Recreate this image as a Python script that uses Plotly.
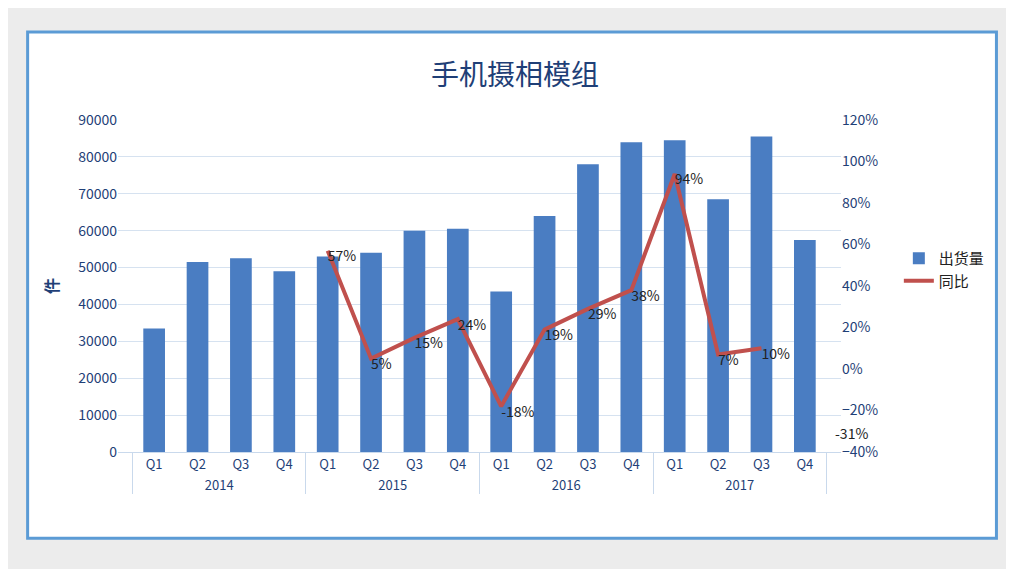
import plotly.graph_objects as go

years = ["2014"] * 4 + ["2015"] * 4 + ["2016"] * 4 + ["2017"] * 4
quarters = ["Q1", "Q2", "Q3", "Q4"] * 4
shipments = [33500, 51500, 52500, 49000, 53000, 54000, 60000, 60500,
             43500, 64000, 78000, 84000, 84500, 68500, 85500, 57500]
yoy = [None, None, None, None, 0.57, 0.05, 0.15, 0.24,
       -0.18, 0.19, 0.29, 0.38, 0.94, 0.07, 0.10, None]
yoy_labels = ["", "", "", "", "57%", "5%", "15%", "24%",
              "-18%", "19%", "29%", "38%", "94%", "7%", "10%", ""]

fig = go.Figure()
fig.add_trace(go.Bar(
    x=[years, quarters], y=shipments, name="出货量",
    marker=dict(color="#4a7dc2", line=dict(width=0)),
))
fig.add_trace(go.Scatter(
    x=[years, quarters], y=yoy, name="同比", yaxis="y2",
    mode="lines+text", line=dict(color="#c0504d", width=4),
    text=yoy_labels, textposition="bottom right",
    textfont=dict(size=14, color="#222"),
))

fig.add_annotation(text="-31%", xref="paper", yref="y2", x=1.04, y=-0.31,
                   showarrow=False, font=dict(size=14, color="#222"))

fig.update_layout(
    width=1014, height=569,
    paper_bgcolor="#ececec", plot_bgcolor="white",
    margin=dict(l=110, r=181, t=112, b=125),
    font=dict(family="Noto Sans CJK SC", color="#1f3f77", size=13),
    title=dict(text="手机摄相模组", x=0.5, xref="container", y=0.9,
               font=dict(size=28, color="#1f3f77")),
    bargap=0.5,
    showlegend=True,
    legend=dict(x=1.08, y=0.55, font=dict(size=15, color="#222"),
                bgcolor="rgba(0,0,0,0)"),
    xaxis=dict(showgrid=False, showline=True, linecolor="#c9d9ec",
               tickfont=dict(size=13, color="#1f3f77"), showdividers=True,
               dividercolor="#c9d9ec"),
    yaxis=dict(range=[0, 90000], dtick=10000, tickformat="d", showgrid=True,
               gridcolor="#d6e2f0", tickfont=dict(size=14, color="#1f3f77"),
               title=dict(text="<b>件</b>", font=dict(size=16))),
    yaxis2=dict(overlaying="y", side="right", range=[-0.4, 1.2], dtick=0.2,
                tickformat=".0%", showgrid=False, tickfont=dict(size=14, color="#1f3f77")),
)

fig.add_shape(type="rect", xref="paper", yref="paper", x0=-0.125, x1=1.215, y0=-0.26, y1=1.265,
              line=dict(color="#5b9bd5", width=3), fillcolor="white", layer="below")

fig.write_html("out.html")
